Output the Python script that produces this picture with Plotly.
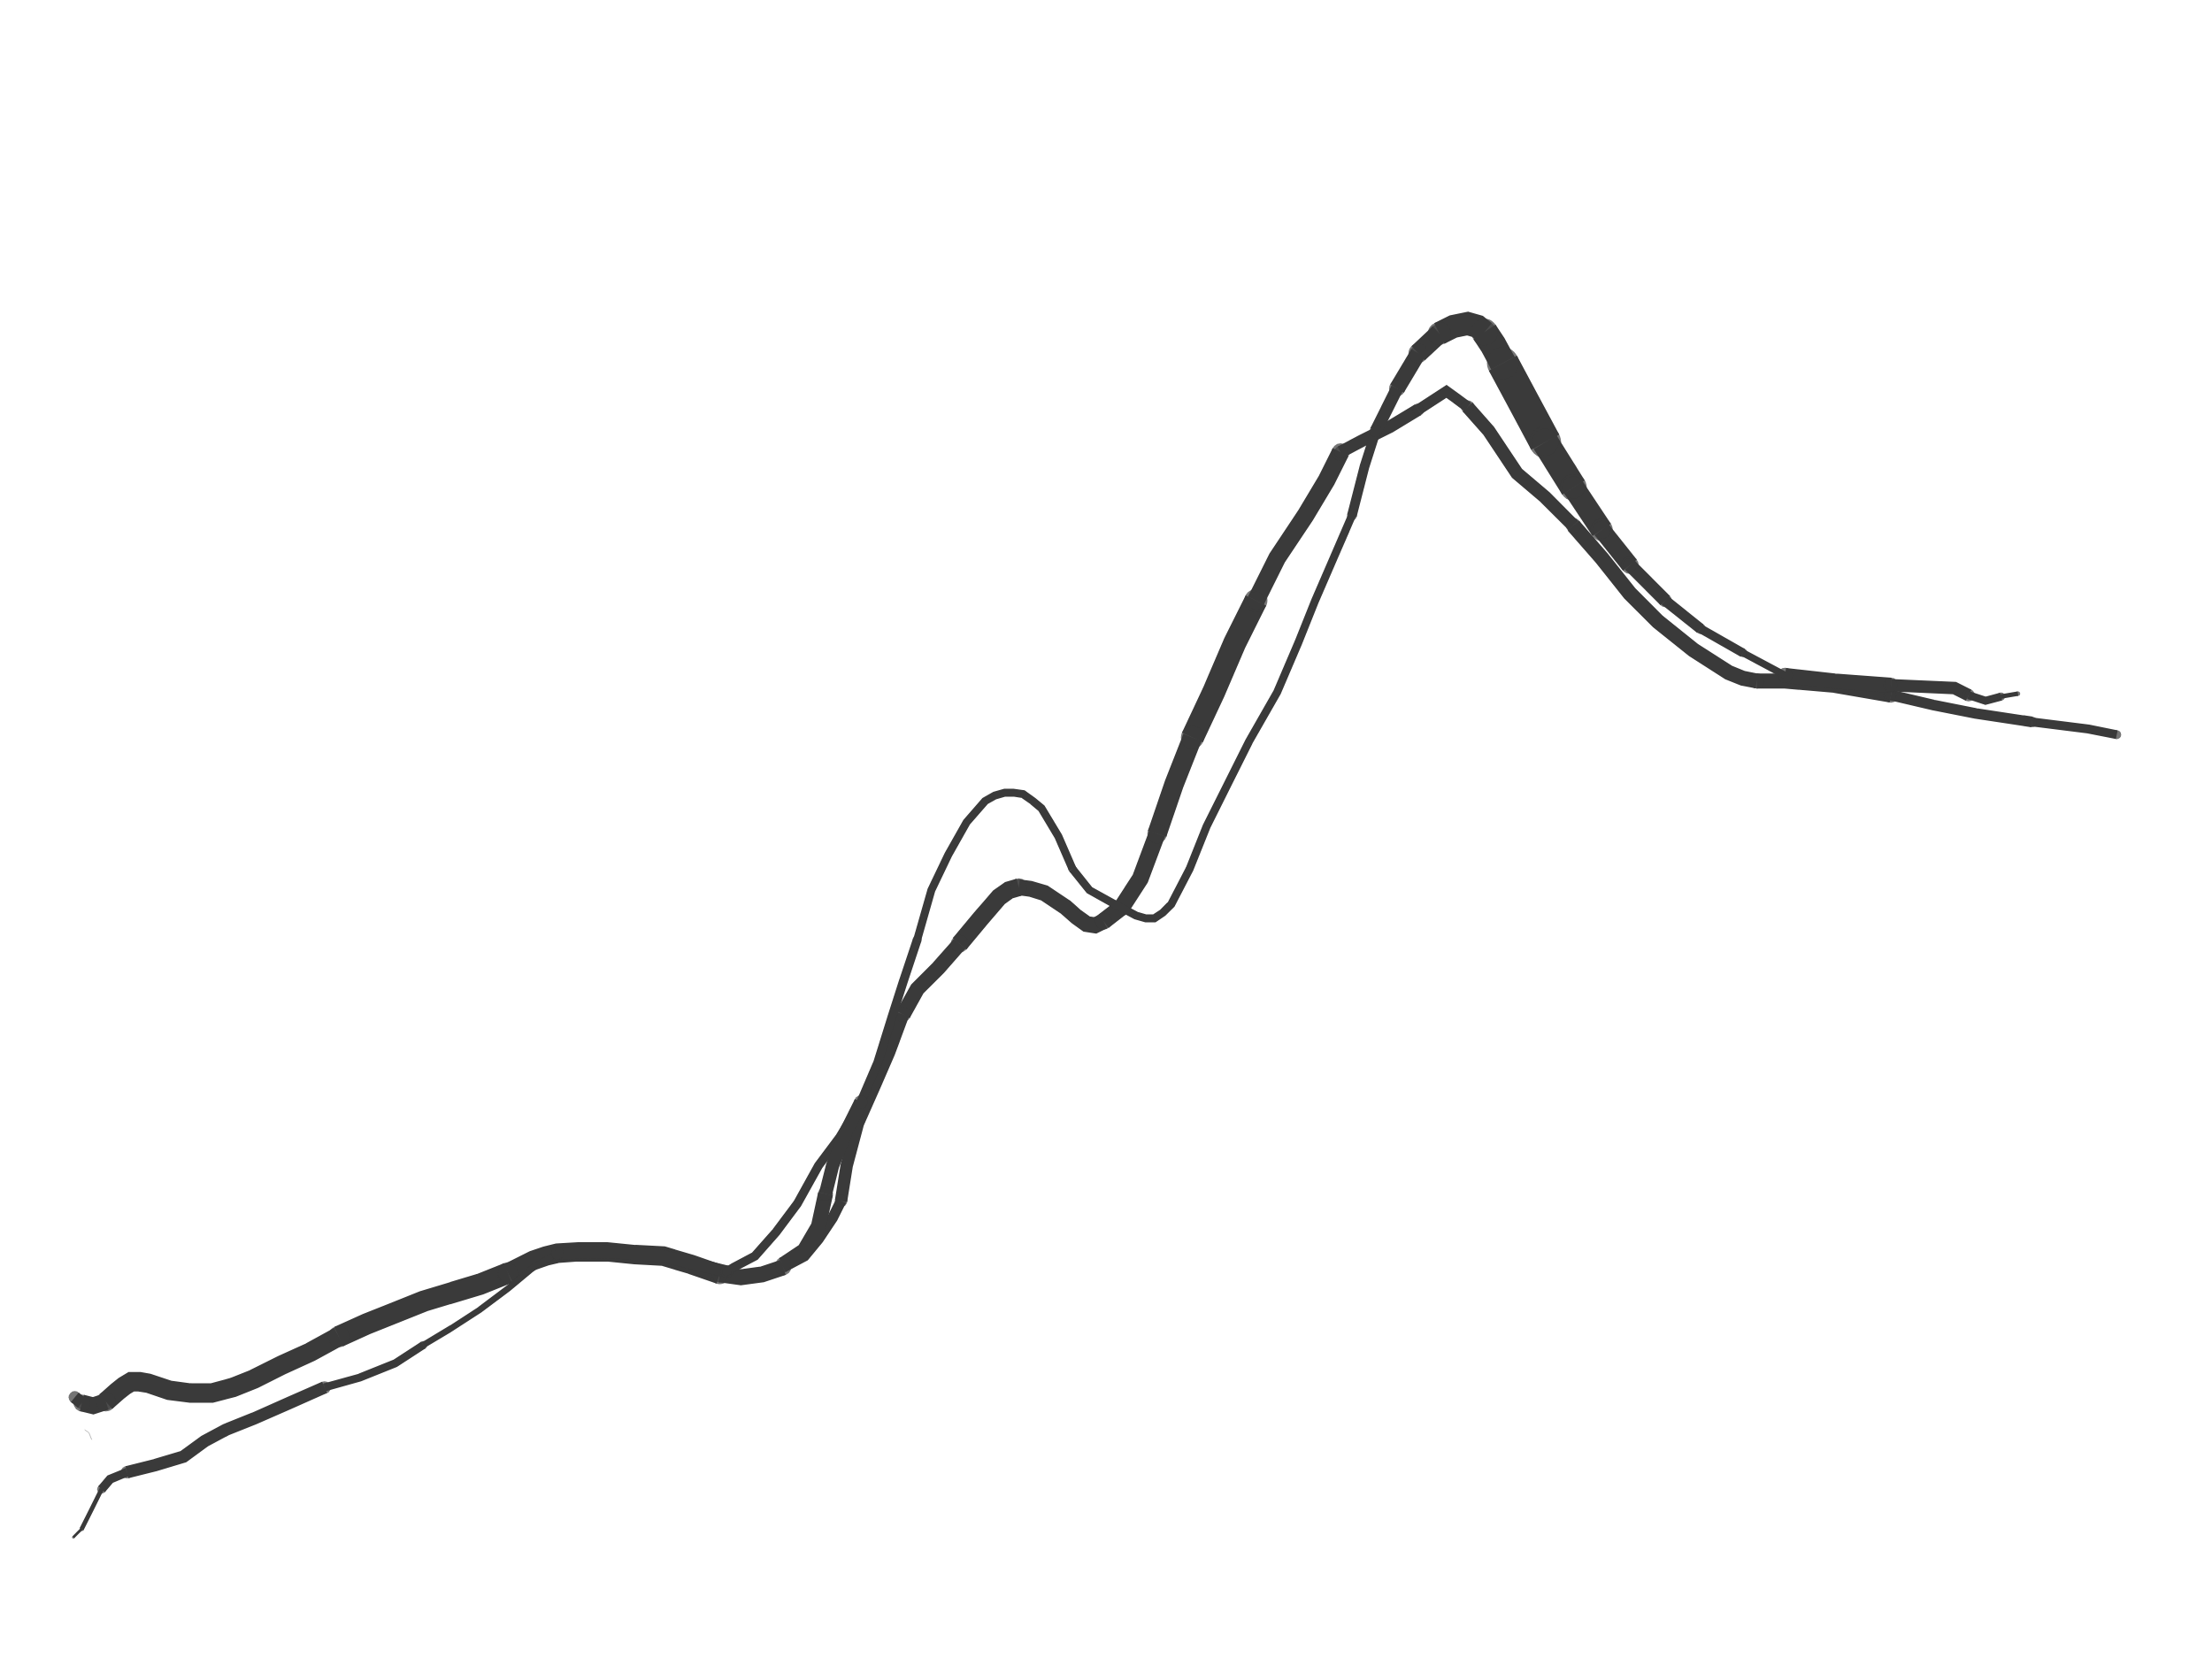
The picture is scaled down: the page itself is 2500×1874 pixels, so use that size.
import plotly.graph_objects as go

# Values (x rises to the right, y rises downward on the reversed axis)
series_a_x = [53,58,66,75,83,88,93,99,105,120,135,150,165,180,200,220,240,260,280,300,320,340,360,378,387,395,410,430,450,470,490,510,525,540,555,570,580,590,596,600,608,620,630,640,650,665,680,695,708,715,722,730,740,755,763,770,776,782,795,808,820,832,845,860,875,890,905,925,940,950,965,985,1005,1025,1032,1040,1055,1075,1095,1115,1135,1155,1175,1200,1225,1235,1245,1265,1300,1340,1370,1400,1440,1480,1500]
series_a_y = [989,993,995,992,985,981,978,978,979,984,986,986,982,976,966,957,946,937,929,921,915,909,901,892,889,887,886,886,888,889,895,902,904,902,897,889,877,862,850,825,795,768,745,718,700,685,668,650,635,630,628,629,632,642,649,654,655,652,642,622,590,555,522,490,455,425,395,365,340,320,312,302,290,277,282,288,305,335,352,372,395,420,440,460,476,480,482,482,485,492,499,505,511,516,520]

series_b_x = [52,58,65,72,78,90,110,130,145,160,180,205,230,255,280,300,320,340,360,378,395,430,470,515,520,535,550,565,580,595,610,622,632,640,650,660,672,685,698,705,712,718,725,732,738,750,760,772,790,805,812,818,824,830,843,855,870,885,905,920,932,945,958,967,975,990,1005,1020,1030,1040,1047,1052,1058,1065,1080,1095,1115,1135,1155,1180,1205,1235,1265,1300,1340,1385,1395,1407,1418,1430]
series_b_y = [1088,1082,1068,1054,1047,1042,1037,1031,1020,1012,1004,993,982,975,965,952,940,927,912,897,887,886,889,900,897,889,872,852,825,805,780,752,720,695,665,630,605,582,567,563,561,561,562,567,572,592,615,630,640,648,650,650,646,640,615,585,555,525,490,455,425,395,365,330,305,275,250,236,231,229,231,235,244,257,285,313,345,375,400,425,445,462,478,482,485,487,492,496,493,491]

series_c_x = [555,570,580,585,590,600,610]
series_c_y = [895,885,868,845,825,800,780]

stray_x = [60,63,65]
stray_y = [1012,1014,1019]

# Stroke weight along each series: (from x, to x, width in px)
a_bands = [(53,58,14),(58,75,19),(75,240,22),(240,360,24),(360,510,22),(510,555,18),(555,596,12),(596,640,14),(640,680,17),(680,722,20),(722,782,18),(782,820,19),(820,845,22),(845,890,26),(890,950,20),(950,1005,14),(1005,1040,12),(1040,1115,15),(1115,1245,17),(1245,1340,17),(1340,1440,12),(1440,1500,10)]
b_bands = [(52,58,3),(58,72,5),(72,90,10),(90,230,14),(230,300,9),(300,395,7),(395,515,14),(515,650,10),(650,760,9),(760,960,9),(960,975,11),(975,990,14),(990,1005,18),(1005,1020,22),(1020,1052,26),(1052,1065,30),(1065,1095,36),(1095,1115,30),(1115,1135,25),(1135,1155,20),(1155,1180,15),(1180,1205,12),(1205,1235,10),(1235,1265,8),(1265,1340,17),(1340,1395,14),(1395,1418,9),(1418,1430,5)]
c_bands = [(555,585,17),(585,610,15)]

INK = "#3a3a3a"
fig = go.Figure()

def add_series(xs, ys, bands):
    for x0, x1, w in bands:
        i0 = max(i for i, v in enumerate(xs) if v <= x0)
        i1 = min(i for i, v in enumerate(xs) if v >= x1)
        seg_x, seg_y = xs[i0:i1+1], ys[i0:i1+1]
        caps = [w] + [0] * (len(seg_x) - 2) + [w]
        fig.add_trace(go.Scatter(x=seg_x, y=seg_y, mode="lines+markers",
                                 line=dict(color=INK, width=w, simplify=False),
                                 marker=dict(color=INK, size=caps, line=dict(width=0)),
                                 hoverinfo="skip", showlegend=False))

add_series(series_a_x, series_a_y, a_bands)
add_series(series_b_x, series_b_y, b_bands)
add_series(series_c_x, series_c_y, c_bands)
fig.add_trace(go.Scatter(x=stray_x, y=stray_y, mode="lines", line=dict(color="#bbbbbb", width=1),
                         hoverinfo="skip", showlegend=False))

fig.update_layout(width=2500, height=1874, margin=dict(l=0, r=0, t=0, b=0),
                  paper_bgcolor="white", plot_bgcolor="white", showlegend=False)
fig.update_xaxes(range=[0, 1567.5], visible=False)
fig.update_yaxes(range=[1173.5, 0], visible=False)
fig.write_html("out.html", post_script="document.body.style.margin='0';", config={"displayModeBar": False})
